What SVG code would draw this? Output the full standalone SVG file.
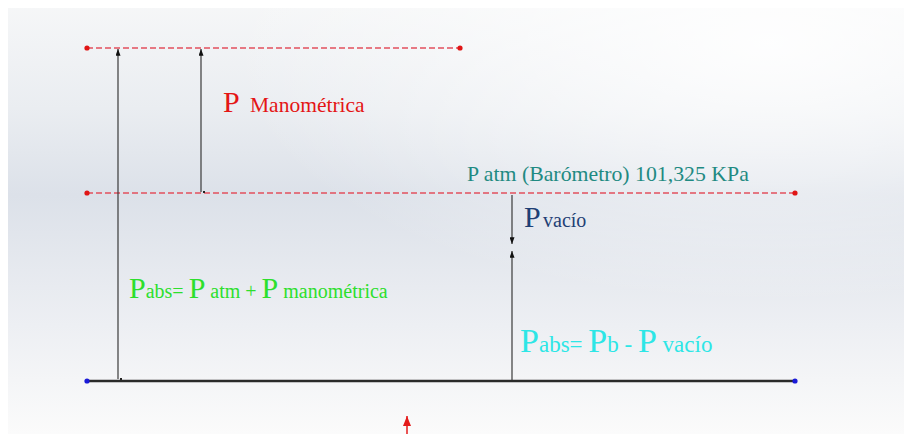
<svg xmlns="http://www.w3.org/2000/svg" width="904" height="434" viewBox="0 0 904 434">
<defs>
<linearGradient id="bg" x1="0" y1="0" x2="0" y2="1">
<stop offset="0" stop-color="#f6f7f8"/>
<stop offset="0.25" stop-color="#eaedf1"/>
<stop offset="0.45" stop-color="#dce1e9"/>
<stop offset="0.75" stop-color="#edeff3"/>
<stop offset="1" stop-color="#fbfbfb"/>
</linearGradient>
<radialGradient id="glow" cx="0.85" cy="0.1" r="0.6">
<stop offset="0" stop-color="#ffffff" stop-opacity="0.9"/>
<stop offset="1" stop-color="#ffffff" stop-opacity="0"/>
</radialGradient>
<marker id="ah" viewBox="0 0 8 6" refX="8" refY="3" markerWidth="8" markerHeight="5" orient="auto" markerUnits="userSpaceOnUse">
<path d="M0,0 L8,3 L0,6 Z" fill="#111"/>
</marker>
<marker id="ahr" viewBox="0 0 10 8" refX="10" refY="4" markerWidth="10" markerHeight="8" orient="auto" markerUnits="userSpaceOnUse">
<path d="M0,0 L10,4 L0,8 Z" fill="#e41b1b"/>
</marker>
</defs>
<style>
.ref{stroke:#e2505e;stroke-width:1.3;stroke-dasharray:6 3;fill:none}
.base{stroke:#2a2a2a;stroke-width:2.5;fill:none}
.dim{stroke:#3a3a3a;stroke-width:1.2;fill:none}
.rd{fill:#e01515}
.bd{fill:#1a1ad8}
</style>
<rect x="0" y="0" width="904" height="434" fill="url(#bg)"/>
<rect x="0" y="0" width="904" height="434" fill="url(#glow)"/>
<rect x="0" y="0" width="904" height="8" fill="#ffffff"/>
<rect x="0" y="0" width="8" height="434" fill="#ffffff"/>

<g id="level-top">
<line class="ref" x1="87" y1="48" x2="460" y2="48"/>
<circle class="rd" cx="87" cy="48" r="2.6"/>
<circle class="rd" cx="460" cy="48" r="2.6"/>
</g>
<g id="level-atm">
<line class="ref" x1="87" y1="193" x2="795" y2="193"/>
<circle class="rd" cx="87" cy="193" r="2.6"/>
<circle class="rd" cx="795" cy="193" r="2.6"/>
</g>
<g id="level-zero">
<line class="base" x1="87" y1="381" x2="795" y2="381"/>
<circle class="bd" cx="87" cy="381" r="2.6"/>
<circle class="bd" cx="795" cy="381" r="2.6"/>
</g>

<g id="connectors">
<line class="dim" x1="118" y1="379" x2="118" y2="49" marker-end="url(#ah)"/>
<rect x="120" y="378" width="2" height="2" fill="#222"/>
<line class="dim" x1="201" y1="192" x2="201" y2="49" marker-end="url(#ah)"/>
<rect x="203" y="191" width="2" height="2" fill="#222"/>
<line class="dim" x1="512" y1="195" x2="512" y2="244" marker-end="url(#ah)"/>
<line class="dim" x1="512" y1="380" x2="512" y2="251" marker-end="url(#ah)"/>
<line x1="407" y1="434" x2="407" y2="416" stroke="#e41b1b" stroke-width="1.5" marker-end="url(#ahr)"/>
</g>

<g id="label-manometrica">
<text x="223" y="112" fill="#e41515" font-family="'Times New Roman', 'Liberation Serif', 'DejaVu Serif', serif" font-size="30">P</text>
<text x="250" y="112" fill="#e41515" font-family="'Times New Roman', 'Liberation Serif', 'DejaVu Serif', serif" font-size="21.5">Manométrica</text>
</g>
<g id="label-atm">
<text x="467" y="181" fill="#1f8a82" font-family="'Times New Roman', 'Liberation Serif', 'DejaVu Serif', serif" font-size="21.8">P atm (Barómetro) 101,325 KPa</text>
</g>
<g id="label-vacio">
<text x="524" y="227" fill="#1f3f75" font-family="'Times New Roman', 'Liberation Serif', 'DejaVu Serif', serif" font-size="30">P</text>
<text x="543" y="227" fill="#1f3f75" font-family="'Times New Roman', 'Liberation Serif', 'DejaVu Serif', serif" font-size="20">vacío</text>
</g>
<g id="label-abs-man">
<text x="129" y="298" fill="#2ddf2d" font-family="'Times New Roman', 'Liberation Serif', 'DejaVu Serif', serif"><tspan font-size="30">P</tspan><tspan font-size="20">abs= </tspan><tspan font-size="30">P</tspan><tspan font-size="20"> atm + </tspan><tspan font-size="30">P</tspan><tspan font-size="20"> manométrica</tspan></text>
</g>
<g id="label-abs-vac">
<text x="520" y="352" fill="#2de6e6" font-family="'Times New Roman', 'Liberation Serif', 'DejaVu Serif', serif"><tspan font-size="34">P</tspan><tspan font-size="23">abs= </tspan><tspan font-size="34">P</tspan><tspan font-size="23">b - </tspan><tspan font-size="34">P</tspan><tspan font-size="23"> vacío</tspan></text>
</g>
</svg>
